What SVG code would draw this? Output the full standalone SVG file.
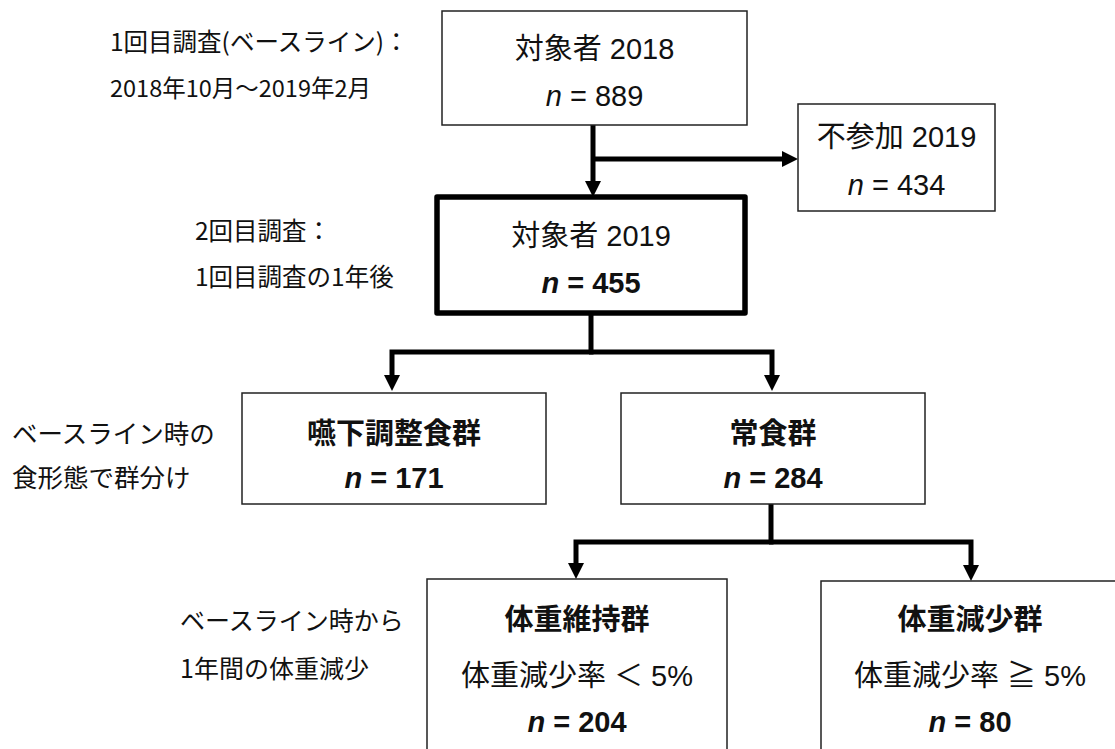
<svg xmlns="http://www.w3.org/2000/svg" width="1115" height="749" viewBox="0 0 1115 749">
<style>
.box{fill:#fff;stroke:#222;stroke-width:1.5}
.thick{fill:#fff;stroke:#000;stroke-width:5.5;stroke-linejoin:round}
.t{font-family:"Liberation Sans","Noto Sans CJK JP",sans-serif;font-size:29px;fill:#111;text-anchor:middle}
.b{font-weight:bold}
.i{font-style:italic}
.a{font-family:"Noto Sans CJK JP",sans-serif;fill:#111}
.con{fill:none;stroke:#000;stroke-width:5}
</style>

<g id="connectors">
<path class="con" d="M593 125 V188"/>
<path class="con" d="M593 159 H789"/>
<path class="con" d="M591 315 V352 H392 V382"/>
<path class="con" d="M589 352 H772 V382"/>
<path class="con" d="M771 504 V542 H576 V570"/>
<path class="con" d="M769 542 H971 V572"/>
<path d="M585 181 L601 181 L593 197 z" fill="#000"/>
<path d="M782 151 L798 159 L782 167 z" fill="#000"/>
<path d="M384 375 L400 375 L392 391 z" fill="#000"/>
<path d="M764 375 L780 375 L772 391 z" fill="#000"/>
<path d="M568 563 L584 563 L576 579 z" fill="#000"/>
<path d="M963 565 L979 565 L971 581 z" fill="#000"/>
</g>

<g id="note1">
<text class="a" x="110" y="51" font-size="24.5">1回目調査(ベースライン)：</text>
<text class="a" x="110" y="97" font-size="23.5">2018年10月～2019年2月</text>
</g>
<g id="note2">
<text class="a" x="195" y="240" font-size="24.5">2回目調査：</text>
<text class="a" x="195" y="286" font-size="24.5">1回目調査の1年後</text>
</g>
<g id="note3">
<text class="a" x="12" y="443" font-size="25.5">ベースライン時の</text>
<text class="a" x="12" y="487" font-size="25.5">食形態で群分け</text>
</g>
<g id="note4">
<text class="a" x="180" y="630" font-size="25">ベースライン時から</text>
<text class="a" x="180" y="678" font-size="25">1年間の体重減少</text>
</g>

<g id="n2018">
<rect class="box" x="442" y="11" width="305" height="114"/>
<text class="t" x="594.5" y="59">対象者 2018</text>
<text class="t" x="594.5" y="106"><tspan class="i">n</tspan> = 889</text>
</g>
<g id="n2019">
<rect class="thick" x="437" y="197" width="308" height="116"/>
<text class="t" x="591" y="246">対象者 2019</text>
<text class="t b" x="591" y="293"><tspan class="i">n</tspan> = 455</text>
</g>
<g id="absent">
<rect class="box" x="798" y="104" width="197" height="107"/>
<text class="t" x="896.5" y="147">不参加 2019</text>
<text class="t" x="896.5" y="195"><tspan class="i">n</tspan> = 434</text>
</g>
<g id="dysphagia">
<rect class="box" x="242" y="393" width="304" height="111"/>
<text class="t b" x="394" y="444">嚥下調整食群</text>
<text class="t b" x="394" y="488"><tspan class="i">n</tspan> = 171</text>
</g>
<g id="regular">
<rect class="box" x="621" y="393" width="304" height="111"/>
<text class="t b" x="773" y="444">常食群</text>
<text class="t b" x="773" y="488"><tspan class="i">n</tspan> = 284</text>
</g>
<g id="maintain">
<rect class="box" x="427" y="579" width="300" height="180"/>
<text class="t b" x="577" y="630">体重維持群</text>
<text class="t" x="577" y="686" font-size="30">体重減少率 ＜ 5%</text>
<text class="t b" x="577" y="732"><tspan class="i">n</tspan> = 204</text>
</g>
<g id="loss">
<rect class="box" x="821" y="581" width="298" height="180"/>
<text class="t b" x="970" y="630">体重減少群</text>
<text class="t" x="970" y="686" font-size="30">体重減少率 ≧ 5%</text>
<text class="t b" x="970" y="732"><tspan class="i">n</tspan> = 80</text>
</g>
</svg>
